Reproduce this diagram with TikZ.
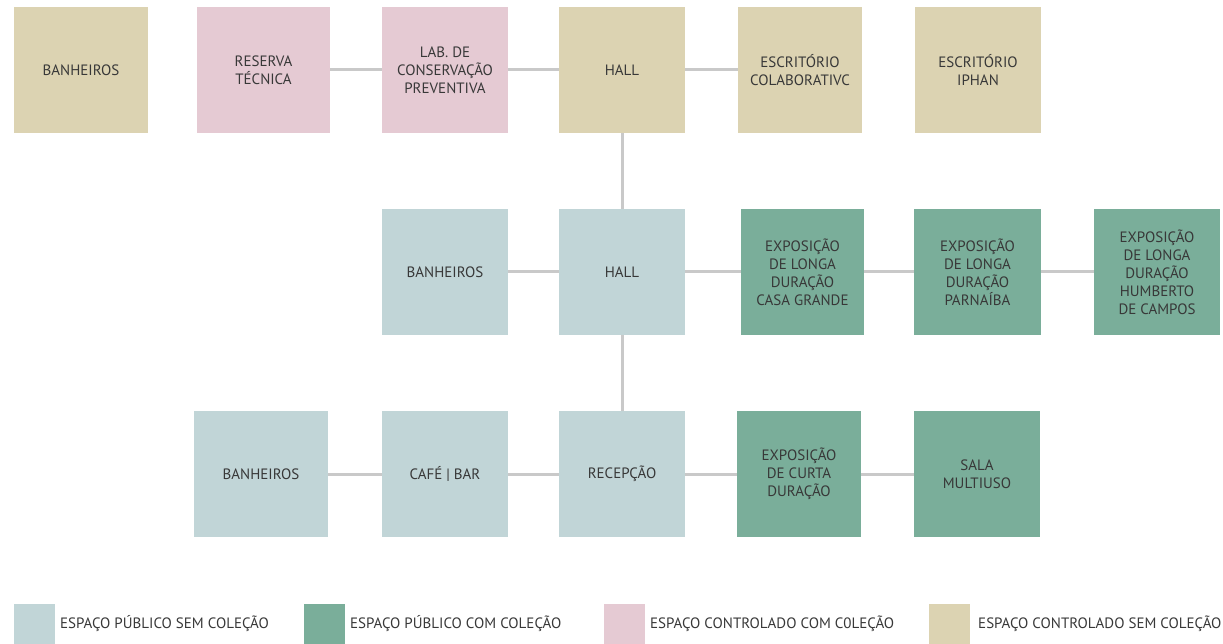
\documentclass[tikz,border=0pt]{standalone}
\usepackage{fontspec}
\setmainfont{PT Sans}
\definecolor{ctrlsem}{HTML}{DCD3B2}
\definecolor{ctrlcom}{HTML}{E5CAD3}
\definecolor{pubsem}{HTML}{C1D5D7}
\definecolor{pubcom}{HTML}{7AAE9A}
\definecolor{link}{HTML}{C9C9C9}
\definecolor{ink}{HTML}{383838}
\tikzset{
  room/.style={rectangle, inner sep=0pt, minimum height=126pt, align=center,
    text=ink, font=\fontsize{15}{18}\selectfont},
  legendbox/.style={rectangle, inner sep=0pt, minimum width=41pt, minimum height=42pt},
  legendtext/.style={anchor=west, inner sep=0pt, text=ink, font=\fontsize{15}{16}\selectfont},
  conn/.style={draw=link, line width=3pt}
}
\begin{document}
\begin{tikzpicture}[x=1pt,y=-1pt]
\useasboundingbox (0,0) rectangle (1223,644);
% upper row: controlled areas
\node[room, fill=ctrlsem, minimum width=134pt] (ban1) at (81,70) {BANHEIROS};
\node[room, fill=ctrlcom, minimum width=133pt] (res) at (263.5,70) {RESERVA\\TÉCNICA};
\node[room, fill=ctrlcom, minimum width=126pt] (lab) at (445,70) {LAB. DE\\CONSERVAÇÃO\\PREVENTIVA};
\node[room, fill=ctrlsem, minimum width=126pt] (hall1) at (622,70) {HALL};
\node[room, fill=ctrlsem, minimum width=124pt] (colab) at (800,70) {ESCRITÓRIO\\COLABORATIVC};
\node[room, fill=ctrlsem, minimum width=126pt] (iphan) at (978,70) {ESCRITÓRIO\\IPHAN};
% middle row: exhibitions
\node[room, fill=pubsem, minimum width=126pt] (ban2) at (445,272) {BANHEIROS};
\node[room, fill=pubsem, minimum width=126pt] (hall2) at (622,272) {HALL};
\node[room, fill=pubcom, minimum width=123pt] (casa) at (802.5,272) {EXPOSIÇÃO\\DE LONGA\\DURAÇÃO\\CASA GRANDE};
\node[room, fill=pubcom, minimum width=127pt] (parn) at (977.5,272) {EXPOSIÇÃO\\DE LONGA\\DURAÇÃO\\PARNAÍBA};
\node[room, fill=pubcom, minimum width=126pt] (humb) at (1157,272) {EXPOSIÇÃO\\DE LONGA\\DURAÇÃO\\HUMBERTO\\DE CAMPOS};
% lower row: entrance level
\node[room, fill=pubsem, minimum width=134pt] (ban3) at (261,474) {BANHEIROS};
\node[room, fill=pubsem, minimum width=126pt] (cafe) at (445,474) {CAFÉ | BAR};
\node[room, fill=pubsem, minimum width=126pt] (recep) at (622,474) {RECEPÇÃO};
\node[room, fill=pubcom, minimum width=124pt] (curta) at (799,474) {EXPOSIÇÃO\\DE CURTA\\DURAÇÃO};
\node[room, fill=pubcom, minimum width=126pt] (sala) at (977,474) {SALA\\MULTIUSO};
% connections
\draw[conn] (res.east) -- (lab.west);
\draw[conn] (lab.east) -- (hall1.west);
\draw[conn] (hall1.east) -- (colab.west);
\draw[conn] (hall1.south) -- (hall2.north);
\draw[conn] (ban2.east) -- (hall2.west);
\draw[conn] (hall2.east) -- (casa.west);
\draw[conn] (casa.east) -- (parn.west);
\draw[conn] (parn.east) -- (humb.west);
\draw[conn] (hall2.south) -- (recep.north);
\draw[conn] (ban3.east) -- (cafe.west);
\draw[conn] (cafe.east) -- (recep.west);
\draw[conn] (recep.east) -- (curta.west);
\draw[conn] (curta.east) -- (sala.west);
% legend
\node[legendbox, fill=pubsem] (k1) at (34.5,624.5) {};
\node[legendtext] (t1) at (60,624) {ESPAÇO PÚBLICO SEM COLEÇÃO};
\node[legendbox, fill=pubcom] (k2) at (324.5,624.5) {};
\node[legendtext] (t2) at (350,624) {ESPAÇO PÚBLICO COM COLEÇÃO};
\node[legendbox, fill=ctrlcom] (k3) at (624.5,624.5) {};
\node[legendtext] (t3) at (650,624) {ESPAÇO CONTROLADO COM C0LEÇÃO};
\node[legendbox, fill=ctrlsem] (k4) at (949.5,624.5) {};
\node[legendtext] (t4) at (978,624) {ESPAÇO CONTROLADO SEM COLEÇÃO};
\end{tikzpicture}
\end{document}
